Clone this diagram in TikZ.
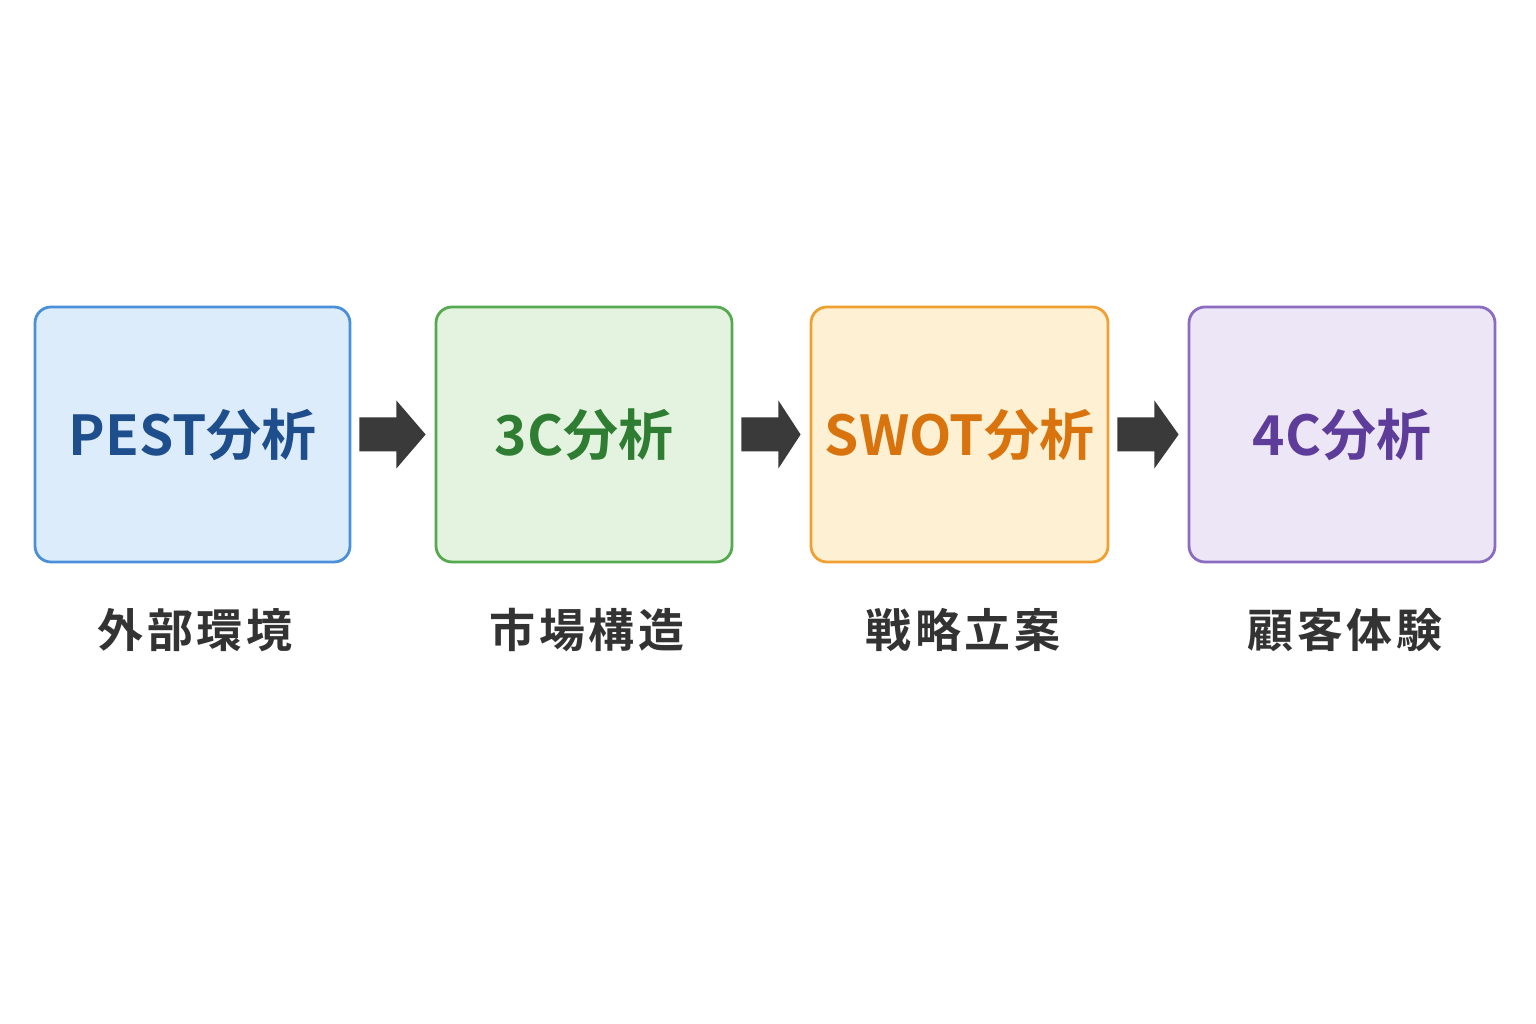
\documentclass[tikz,border=0pt]{standalone}
\usepackage{fontspec}
\newfontfamily\cjk{Noto Sans CJK JP}[BoldFont={* Bold}]
\newfontfamily\cjksp{Noto Sans CJK JP}[BoldFont={* Bold},LetterSpace=8]
\usetikzlibrary{calc}
\definecolor{bB}{HTML}{4A90D9}\definecolor{fB}{HTML}{DDECFB}\definecolor{tB}{HTML}{1F4E8C}
\definecolor{bG}{HTML}{55AA4F}\definecolor{fG}{HTML}{E4F3E0}\definecolor{tG}{HTML}{2E7D32}
\definecolor{bO}{HTML}{F0A030}\definecolor{fO}{HTML}{FEF0D3}\definecolor{tO}{HTML}{D9730D}
\definecolor{bP}{HTML}{8A6CC0}\definecolor{fP}{HTML}{ECE6F7}\definecolor{tP}{HTML}{5E3D9A}
\definecolor{lab}{HTML}{333333}\definecolor{arr}{HTML}{3A3A3A}
\begin{document}
\begin{tikzpicture}[x=1pt,y=1pt,
  box/.style={draw, line width=2.8pt, rounded corners=16pt, minimum height=255pt, inner sep=0pt,
    font=\cjk\bfseries\fontsize{55}{62}\selectfont},
  lbl/.style={font=\cjksp\bfseries\fontsize{46}{52}\selectfont, text=lab}]
\useasboundingbox (0,0) rectangle (1536,1024);
\fill[white] (0,0) rectangle (1536,1024);
\node[box, draw=bB, fill=fB, text=tB, minimum width=315pt] (a) at (192.5,589.5) {PEST分析};
\node[box, draw=bG, fill=fG, text=tG, minimum width=296pt] (b) at (584,589.5) {3C分析};
\node[box, draw=bO, fill=fO, text=tO, minimum width=297pt] (c) at (959.5,589.5) {SWOT分析};
\node[box, draw=bP, fill=fP, text=tP, minimum width=306pt] (d) at (1342,589.5) {4C分析};
\node[lbl] (la) at (195,394) {外部環境};
\node[lbl] (lb) at (587,394) {市場構造};
\node[lbl] (lc) at (963,394) {戦略立案};
\node[lbl] (ld) at (1345,394) {顧客体験};
\foreach \p/\q in {a/b,b/c,c/d}{
  \fill[arr] ($(\p.east)+(8,17)$) -- ($(\p.east)+(45,17)$) -- ($(\p.east)+(45,34)$)
    -- ($(\q.west)+(-9,0)$) -- ($(\p.east)+(45,-34)$) -- ($(\p.east)+(45,-17)$)
    -- ($(\p.east)+(8,-17)$) -- cycle;
}
\end{tikzpicture}
\end{document}
